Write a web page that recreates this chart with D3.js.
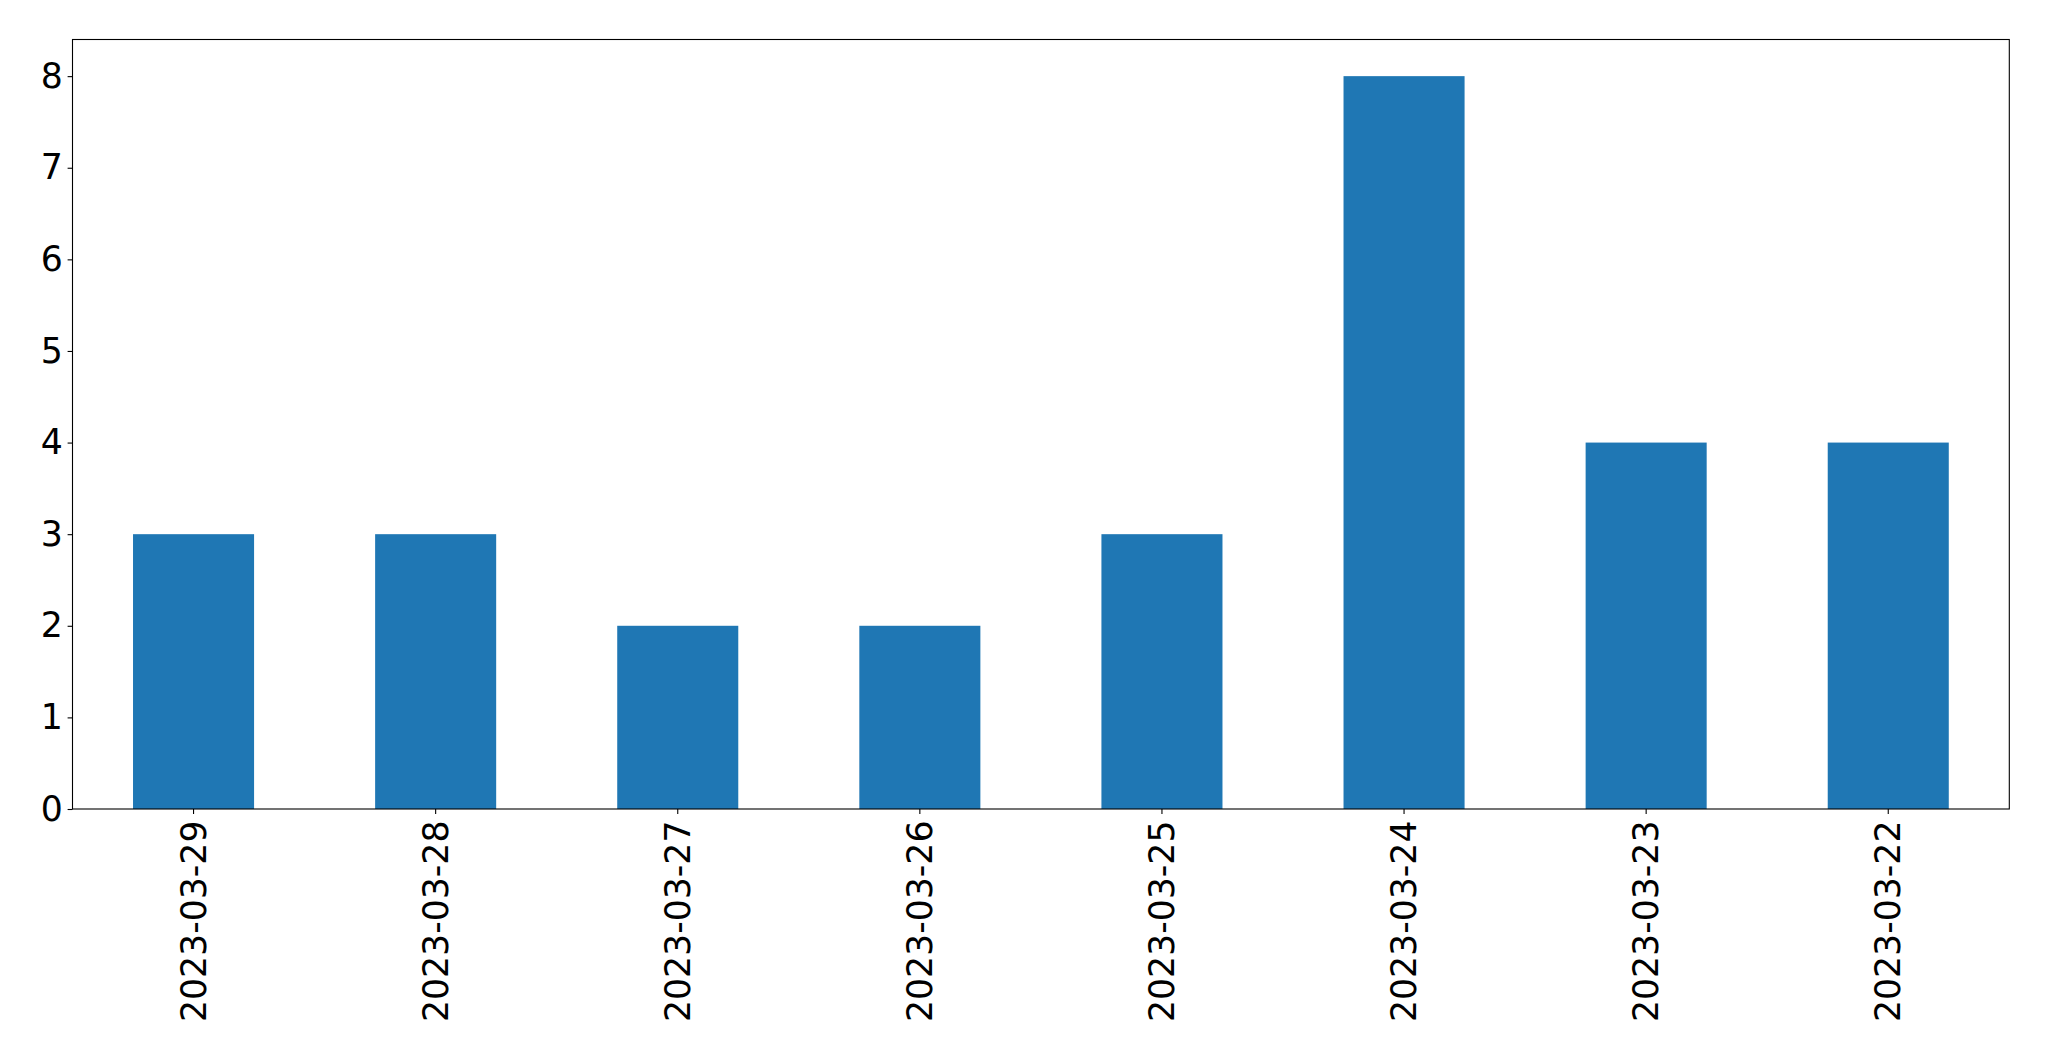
<!DOCTYPE html>
<html><head><meta charset="utf-8">
<script src="https://cdn.jsdelivr.net/npm/d3@7"></script>
<style>body{margin:0;background:#fff}svg{display:block}</style>
</head><body>
<script>
const categories = ["2023-03-29","2023-03-28","2023-03-27","2023-03-26","2023-03-25","2023-03-24","2023-03-23","2023-03-22"];
const values = [3,3,2,2,3,8,4,4];
const yTicks = [0,1,2,3,4,5,6,7,8];

const W = 2049, H = 1061;
const L = 72.5, R = 2009.3, T = 39.5, B = 809;
const fs = 34.7;

const svg = d3.select("body").append("svg").attr("width", W).attr("height", H);

const x = d3.scaleBand().domain(categories).range([L, R]).paddingInner(0.5).paddingOuter(0.25);
const y = d3.scaleLinear().domain([0, 8.4]).range([B, T]);

svg.append("g").selectAll("rect").data(values).join("rect")
  .attr("x", (d,i) => x(categories[i]))
  .attr("width", x.bandwidth())
  .attr("y", d => y(d))
  .attr("height", d => y(0) - y(d))
  .attr("fill", "#1f77b4");

const font = "'DejaVu Sans', sans-serif";

const gy = svg.append("g").attr("transform", `translate(${L},0)`)
  .call(d3.axisLeft(y).tickValues(yTicks).tickFormat(d3.format("d")).tickSize(4.9).tickPadding(4.9));
gy.select(".domain").remove();
gy.selectAll("line").attr("stroke", "#000").attr("stroke-width", 1.1);
gy.selectAll("text").attr("font-family", font).attr("font-size", fs).attr("fill", "#000");

const gx = svg.append("g").attr("transform", `translate(0,${B})`)
  .call(d3.axisBottom(x).tickSize(4.9).tickPadding(4.9));
gx.select(".domain").remove();
gx.selectAll("line").attr("stroke", "#000").attr("stroke-width", 1.1);
gx.selectAll("text").attr("font-family", font).attr("font-size", fs).attr("fill", "#000")
  .attr("text-anchor", "end")
  .attr("transform", "rotate(-90)")
  .attr("x", -11.5).attr("y", 0).attr("dy", "0.35em");

svg.append("rect").attr("x", L).attr("y", T).attr("width", R - L).attr("height", B - T)
  .attr("fill", "none").attr("stroke", "#000").attr("stroke-width", 1.1);
</script>
</body></html>
